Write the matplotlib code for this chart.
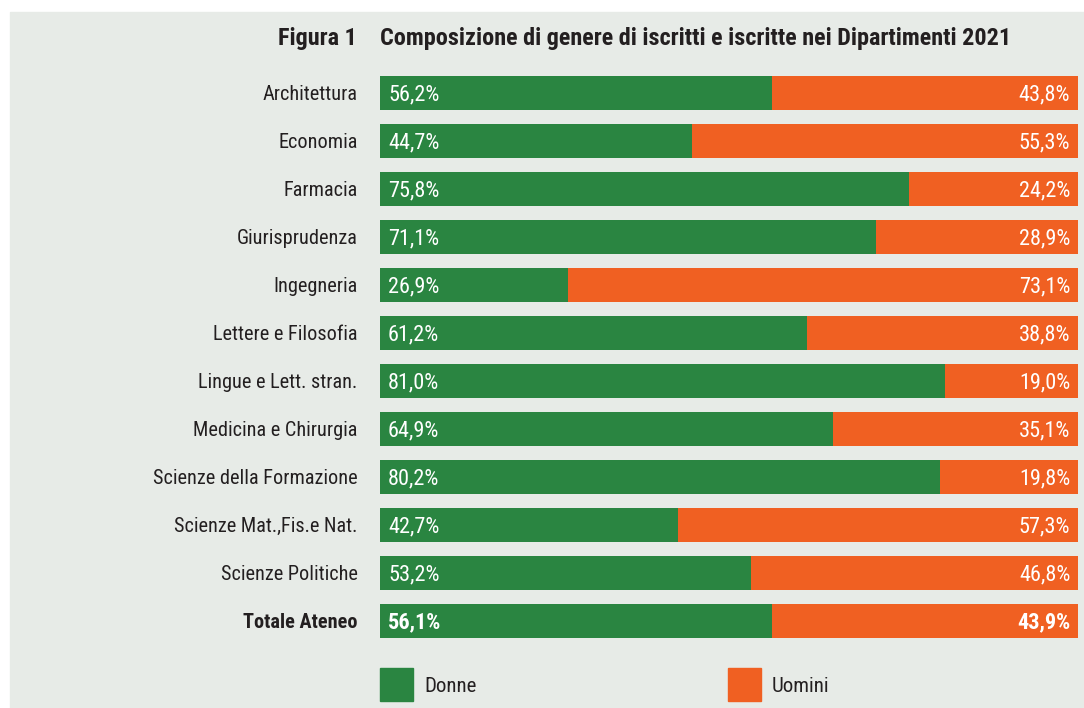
import matplotlib
matplotlib.use("Agg")
import matplotlib.pyplot as plt
from matplotlib.patches import Rectangle

plt.rcParams["font.family"] = ["Liberation Sans Narrow", "Roboto Condensed",
                               "DejaVu Sans Condensed", "Roboto", "DejaVu Sans"]

# Dipartimenti e quote percentuali
dipartimenti = [
    "Architettura", "Economia", "Farmacia", "Giurisprudenza", "Ingegneria",
    "Lettere e Filosofia", "Lingue e Lett. stran.", "Medicina e Chirurgia",
    "Scienze della Formazione", "Scienze Mat.,Fis.e Nat.", "Scienze Politiche",
    "Totale Ateneo",
]
donne = [56.2, 44.7, 75.8, 71.1, 26.9, 61.2, 81.0, 64.9, 80.2, 42.7, 53.2, 56.1]
uomini = [43.8, 55.3, 24.2, 28.9, 73.1, 38.8, 19.0, 35.1, 19.8, 57.3, 46.8, 43.9]
serie = ["Donne", "Uomini"]

VERDE = "#2a8541"
ARANCIO = "#f06022"
SFONDO = "#e7ebe7"
TESTO = "#231f20"

W, H = 1084, 708
fig = plt.figure(figsize=(W / 100, H / 100), dpi=100)
fig.patch.set_facecolor("white")

# pannello di sfondo
fig.patches.append(Rectangle((10 / W, 0), 1 - 10 / W, 1 - 12 / H,
                             transform=fig.transFigure, color=SFONDO, zorder=-5))

ax = fig.add_axes([380 / W, 1 - 645 / H, (1078 - 380) / W, 576 / H], zorder=2)
ax.set_facecolor("none")
n = len(dipartimenti)
y = list(range(n))
ax.barh(y, donne, height=0.69, color=VERDE)
ax.barh(y, uomini, left=donne, height=0.69, color=ARANCIO)
ax.set_xlim(0, 100)
ax.set_ylim(n - 0.5, -0.5)
ax.axis("off")


def fmt(v):
    return f"{v:.1f}%".replace(".", ",")


dy = 0.035  # piccolo scarto verticale per centrare otticamente il testo
for i, (d, u, nome) in enumerate(zip(donne, uomini, dipartimenti)):
    peso = "bold" if i == n - 1 else "normal"
    ax.text(1.15, i + dy, fmt(d), va="center", ha="left", color="white",
            fontsize=16, fontweight=peso)
    ax.text(98.9, i + dy, fmt(u), va="center", ha="right", color="white",
            fontsize=16, fontweight=peso)
    ax.text(-3.2, i + dy, nome, va="center", ha="right", color=TESTO,
            fontsize=14.6, fontweight=peso, clip_on=False)

# titolo
fig.text(357 / W, 1 - 38 / H, "Figura 1", ha="right", va="center",
         fontsize=17.4, fontweight="bold", color=TESTO)
fig.text(380 / W, 1 - 38 / H,
         "Composizione di genere di iscritti e iscritte nei Dipartimenti 2021",
         ha="left", va="center", fontsize=17.4, fontweight="bold", color=TESTO)

# legenda
for x0, col, lab in [(380, VERDE, serie[0]), (728, ARANCIO, serie[1])]:
    fig.patches.append(Rectangle((x0 / W, 1 - 701 / H), 33 / W, 33 / H,
                                 transform=fig.transFigure, color=col))
    fig.text((x0 + 44) / W, 1 - 687 / H, lab, ha="left", va="center",
             fontsize=15, color=TESTO)

fig.savefig("out.png", dpi=100, facecolor=fig.get_facecolor())
